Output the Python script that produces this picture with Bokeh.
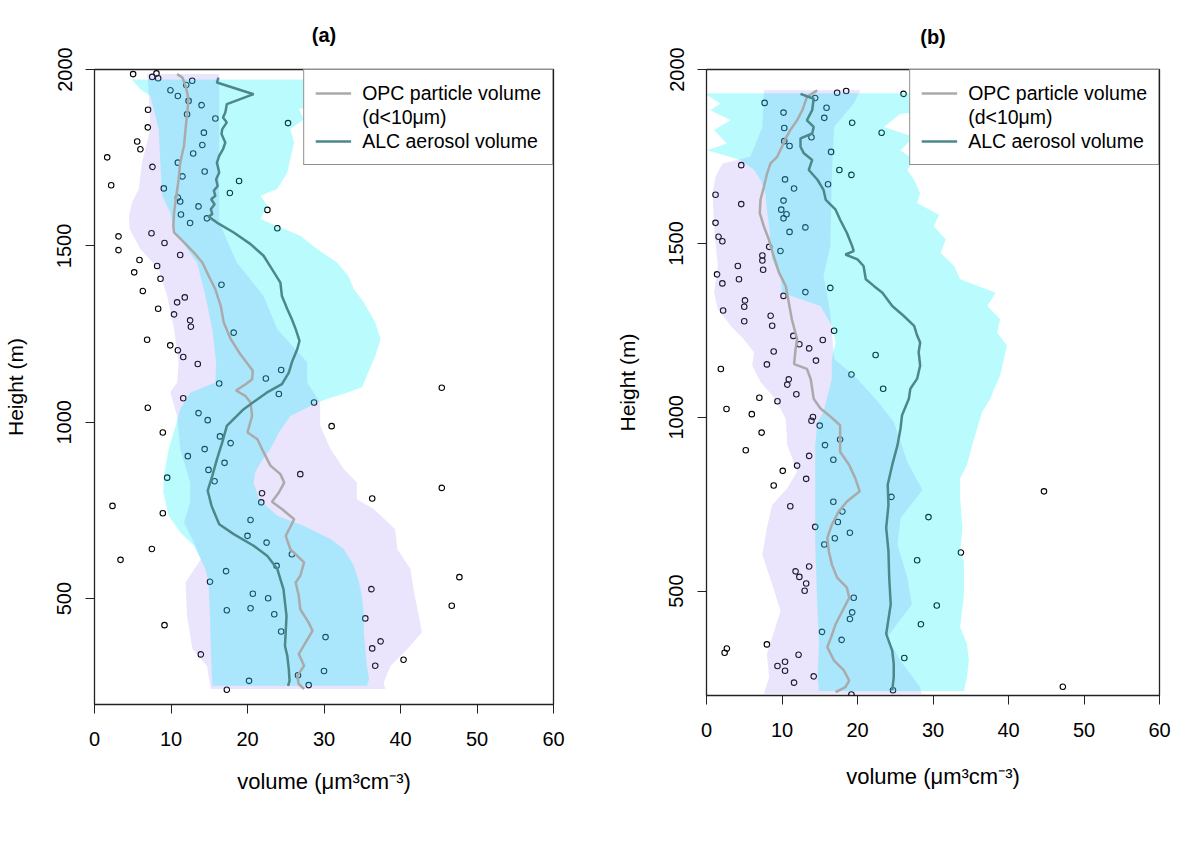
from bokeh.plotting import figure
from bokeh.layouts import row
from bokeh.models import Range1d, Legend, LegendItem, FixedTicker
from bokeh.embed import file_html
from bokeh.resources import INLINE

FONT = "Liberation Sans"

# ---------------- Panel (a) ----------------
A_alc_h = [1977, 1963, 1930, 1902, 1878, 1864, 1850, 1831, 1817, 1793, 1774, 1755, 1736, 1708, 1689, 1670, 1656, 1642, 1632, 1618,
           1604, 1590, 1583, 1566, 1538, 1505, 1472, 1434, 1396, 1358, 1321, 1292, 1264, 1231, 1207, 1170, 1141, 1108, 1084, 1037,
           990, 943, 895, 848, 806, 763, 711, 683, 650, 621, 584, 527, 451, 366, 338, 300, 267, 253]
A_alc_v = [16.2, 16.0, 20.8, 17.3, 17.1, 16.8, 17.3, 16.7, 16.6, 17.1, 16.8, 16.3, 16.0, 16.3, 15.9, 16.1, 15.6, 15.8, 15.25, 15.7,
           15.2, 15.4, 14.9, 16.0, 18.2, 20.4, 22.1, 23.2, 24.3, 24.5, 25.2, 25.8, 26.3, 26.8, 26.5, 25.8, 25.4, 24.5, 22.5, 19.5,
           17.3, 16.7, 16.0, 15.4, 14.8, 15.3, 16.3, 18.2, 20.8, 22.6, 23.9, 24.7, 25.1, 24.9, 25.2, 25.4, 25.5, 25.3]

A_opc_h = [1987, 1977, 1954, 1916, 1873, 1831, 1784, 1736, 1689, 1642, 1595, 1557, 1538, 1510, 1481, 1453, 1425, 1377, 1330, 1283,
           1236, 1198, 1160, 1146, 1122, 1110, 1090, 1075, 1056, 1018, 971, 952, 924, 877, 853, 829, 801, 775, 754, 725,
           678, 640, 603, 565, 546, 508, 470, 432, 409, 376, 343, 310, 281, 258, 244]
A_opc_v = [10.8, 11.5, 11.9, 12.3, 12.1, 11.9, 11.7, 11.2, 11.0, 10.7, 10.4, 10.3, 10.4, 11.7, 13.0, 14.1, 14.7, 15.8, 16.5, 16.9,
           17.8, 18.9, 20.2, 20.7, 20.6, 19.9, 18.5, 19.7, 20.4, 20.6, 20.0, 21.3, 21.9, 23.0, 24.3, 24.8, 24.1, 23.2, 24.5, 26.1,
           25.0, 25.6, 27.4, 26.9, 26.3, 26.7, 26.9, 28.0, 28.5, 27.6, 26.7, 27.4, 26.5, 26.7, 27.4]

# ALC range band (cyan): left and right edges, top to bottom
A_cyan_left_h = [1972, 1944, 1925, 1831, 1736, 1642, 1595, 1547, 1491, 1453, 1358, 1264, 1170, 1113, 1084, 1037, 990, 924, 848,
                 801, 735, 688, 650, 612, 584, 546, 451, 357, 253]
A_cyan_left_v = [4.9, 6.0, 7.3, 8.4, 8.6, 8.85, 9.9, 10.4, 12.1, 13.4, 14.5, 15.4, 15.9, 15.8, 12.5, 11.2, 10.6, 9.7, 9.06,
                 9.0, 9.7, 11.2, 13.0, 13.9, 14.5, 14.9, 15.1, 15.2, 15.4]
A_cyan_right_h = [1972, 1900, 1888, 1859, 1831, 1793, 1746, 1708, 1661, 1642, 1614, 1576, 1529, 1491, 1453, 1415, 1377, 1340,
                  1283, 1236, 1188, 1132, 1100, 1084, 1070, 1056, 1018, 971, 924, 886, 858, 829, 782, 735, 706, 669, 640,
                  593, 546, 499, 451, 404, 357, 310, 272, 253]
A_cyan_right_v = [30.0, 30.0, 26.7, 27.4, 25.6, 26.1, 25.6, 25.2, 23.9, 21.7, 22.6, 21.7, 26.9, 29.1, 31.7, 33.2, 33.9, 35.2,
                  36.7, 37.4, 36.7, 35.6, 35.0, 33.0, 31.0, 29.1, 25.6, 24.1, 23.0, 21.7, 21.0, 20.8, 21.5, 23.9, 27.4, 30.85, 32.6,
                  33.9, 34.6, 35.0, 35.2, 35.2, 35.4, 35.6, 35.9, 35.6]

# OPC range band (purple)
A_purp_left_h = [1987, 1925, 1831, 1736, 1661, 1623, 1585, 1547, 1491, 1434, 1358, 1264, 1170, 1113, 1085, 1018, 924, 829,
                 773, 716, 659, 612, 546, 451, 357, 310, 244]
A_purp_left_v = [6.9, 7.1, 7.3, 6.2, 5.8, 4.9, 4.5, 4.6, 6.0, 8.4, 9.5, 10.4, 11.0, 10.8, 9.9, 10.8, 11.2, 12.5,
                 12.5, 11.7, 13.0, 13.9, 11.9, 12.1, 12.8, 14.7, 15.2]
A_purp_right_h = [1987, 1831, 1566, 1453, 1358, 1264, 1170, 1113, 1056, 990, 924, 867, 829, 782, 754, 697, 640, 584, 527,
                  451, 404, 357, 310, 262, 244]
A_purp_right_v = [16.3, 16.3, 16.3, 18.6, 22.1, 23.9, 27.8, 27.8, 29.5, 29.5, 30.85, 32.6, 34.3, 34.3, 36.5, 39.3, 39.6, 41.3, 41.7,
                  42.4, 42.8, 40.9, 38.7, 37.8, 38.0]

A_pts_v = [5.05, 7.54, 8.1, 8.32, 12.77, 12.0, 9.93, 10.9, 12.3, 14.0, 7.0, 12.1, 15.8, 25.3, 6.97, 14.3, 5.58, 14.1, 6.0, 12.9,
           1.66, 10.9, 7.58, 14.4, 11.5, 18.9, 2.18, 9.06, 17.7, 10.9, 11.2, 13.6, 22.6, 11.3, 14.7, 12.5, 23.9, 7.45, 3.14, 9.15,
           3.14, 11.2, 5.88, 8.19, 5.19, 8.63, 6.32, 16.6, 11.8, 10.8, 8.32, 10.4, 12.5, 12.6, 18.2, 6.88, 9.9, 10.9, 11.6, 13.5,
           24.4, 22.4, 16.3, 45.4,
           24.1, 11.6, 6.97, 28.7, 13.6, 14.8, 8.93, 31.0, 16.4, 17.8, 14.4, 12.2, 17.0, 14.9, 26.9, 15.7, 9.5, 21.9, 21.8, 36.3,
           45.4, 2.35, 8.93, 20.4, 20.0, 22.5, 25.8, 7.5, 3.4, 23.8, 17.2, 47.7, 15.1, 36.2, 20.7, 22.7, 46.7, 17.3, 20.4, 23.5,
           35.4, 9.15, 24.4, 30.2, 37.4, 36.3, 13.9, 40.4, 36.7, 30.0, 26.6, 20.2, 28.0, 17.3]
A_pts_h = [1987, 1979, 1989, 1975, 1968, 1956, 1941, 1925, 1911, 1899, 1886, 1873, 1861, 1848, 1836, 1821, 1796, 1786, 1774, 1762,
           1751, 1736, 1724, 1711, 1697, 1684, 1672, 1663, 1650, 1637, 1626, 1612, 1602, 1589, 1578, 1565, 1550, 1536, 1527, 1508,
           1488, 1474, 1460, 1443, 1425, 1407, 1372, 1390, 1354, 1340, 1322, 1306, 1289, 1271, 1254, 1234, 1218, 1204, 1185, 1165,
           1148, 1124, 1110, 1098,
           1080, 1068, 1041, 1056, 1026, 1006, 971, 989, 960, 941, 924, 904, 885, 865, 853, 833, 843, 799, 773, 784,
           814, 763, 742, 723, 678, 659, 626, 641, 610, 593, 578, 561, 548, 527, 514, 501, 480, 467, 473, 456,
           444, 425, 407, 391, 379, 359, 342, 327, 310, 295, 283, 267, 255, 242]

# ---------------- Panel (b) ----------------
B_alc_h = [1930, 1916, 1883, 1854, 1835, 1816, 1802, 1778, 1759, 1740, 1711, 1683, 1654, 1625, 1597, 1568, 1530, 1492, 1478, 1468,
           1454, 1435, 1397, 1377, 1358, 1320, 1292, 1263, 1235, 1215, 1187, 1149, 1111, 1082, 1053, 1006, 968, 920, 863, 806,
           748, 682, 615, 539, 462, 377, 329, 291, 253, 215]
B_alc_v = [12.45, 14.2, 14.0, 13.3, 14.2, 14.0, 12.45, 12.45, 12.9, 14.0, 13.55, 14.7, 15.5, 15.8, 17.1, 17.7, 18.6, 19.3, 19.5, 18.4,
           20.0, 20.8, 21.1, 22.2, 23.3, 24.6, 26.1, 27.5, 27.9, 28.3, 28.1, 28.3, 27.9, 27.0, 26.8, 25.9, 25.7, 25.3, 24.6, 24.0,
           24.1, 23.8, 24.1, 24.2, 24.4, 23.8, 24.6, 24.8, 24.8, 24.6]

B_opc_h = [1940, 1921, 1883, 1854, 1826, 1802, 1778, 1749, 1730, 1702, 1663, 1625, 1587, 1549, 1511, 1463, 1416, 1377, 1330, 1282,
           1225, 1196, 1153, 1139, 1110, 1082, 1053, 1025, 1006, 977, 939, 901, 863, 825, 787, 758, 729, 691, 653, 615,
           577, 539, 510, 481, 443, 405, 367, 339, 300, 272, 243, 224, 210]
B_opc_v = [14.66, 13.3, 12.7, 12.0, 11.1, 10.5, 10.0, 9.36, 8.48, 8.04, 7.6, 7.15, 7.06, 7.6, 8.26, 8.9, 9.6, 10.5, 10.9, 11.3,
           12.0, 11.8, 11.6, 13.3, 13.8, 14.0, 14.2, 15.1, 16.2, 17.7, 17.7, 17.7, 18.9, 19.7, 20.3, 18.6, 17.5, 16.6, 16.0, 16.2,
           16.6, 17.3, 18.6, 18.9, 18.0, 17.1, 16.5, 16.0, 16.9, 18.2, 18.9, 18.4, 17.1]

B_cyan_left_h = [1932, 1926, 1902, 1883, 1854, 1826, 1787, 1768, 1740, 1711, 1683, 1644, 1597, 1549, 1492, 1454, 1406, 1358,
                 1320, 1263, 1215, 1168, 1110, 1015, 987, 920, 825, 634, 443, 348, 253, 213]
B_cyan_left_v = [0.1, 0.1, 1.85, 0.5, 3.2, 1.0, 2.7, 0.1, 4.5, 6.3, 7.15, 7.8, 8.0, 8.3, 8.5, 8.7, 9.8, 10.0,
                 15.1, 16.6, 17.1, 16.6, 16.6, 15.5, 14.7, 14.4, 14.4, 14.4, 14.7, 14.9, 14.7, 14.9]
B_cyan_right_h = [1932, 1880, 1873, 1835, 1806, 1768, 1740, 1711, 1683, 1644, 1616, 1582, 1549, 1511, 1473, 1435, 1397, 1358,
                  1320, 1282, 1244, 1206, 1168, 1120, 1082, 1053, 1015, 968, 920, 863, 825, 768, 682, 611, 586, 491, 396,
                  348, 300, 253, 213]
B_cyan_right_v = [30.0, 30.0, 25.7, 23.5, 27.5, 25.7, 27.5, 26.6, 27.5, 28.3, 27.9, 30.8, 30.1, 31.7, 31.0, 32.8, 33.6, 38.3,
                  37.2, 38.9, 38.5, 39.8, 39.4, 38.9, 38.1, 37.6, 36.5, 35.85, 35.2, 34.5, 33.6, 33.6, 33.9, 33.6, 34.1, 34.1, 33.6,
                  34.5, 34.75, 34.5, 34.1]

B_purp_left_h = [1940, 1835, 1749, 1730, 1692, 1644, 1597, 1549, 1501, 1435, 1358, 1311, 1263, 1225, 1187, 1149, 1100, 1053,
                 996, 920, 844, 796, 748, 682, 605, 520, 443, 367, 319, 253, 205]
B_purp_left_v = [7.6, 7.4, 5.8, 2.1, 1.2, 0.8, 0.9, 1.0, 1.2, 1.5, 1.0, 1.5, 3.2, 4.9, 6.3, 6.05, 7.2, 9.1,
                 10.5, 10.7, 12.0, 10.7, 8.7, 8.0, 7.4, 8.7, 9.8, 8.7, 8.0, 8.3, 7.6]
B_purp_right_h = [1940, 1902, 1835, 1692, 1492, 1406, 1301, 1168, 1110, 1050, 987, 872, 791, 710, 634, 539, 462, 367, 300,
                  224, 205]
B_purp_right_v = [20.4, 19.5, 16.9, 16.6, 16.4, 15.5, 16.4, 16.9, 20.0, 22.5, 24.8, 26.6, 28.6, 25.7, 25.3, 26.6, 27.2, 23.9, 25.7,
                  28.3, 28.5]

B_pts_v = [17.3, 18.5, 26.1, 14.4, 7.7, 15.9, 10.2, 15.6, 19.3, 10.3, 23.2, 13.9, 10.3, 11.0, 16.5, 4.6, 17.6, 19.2, 10.4, 16.1,
           11.6, 1.2, 10.2, 4.6, 9.9, 10.6, 10.2, 1.2, 13.1, 11.0, 1.6, 2.1, 8.3, 9.8, 7.4, 7.4, 7.5, 4.15, 1.4, 4.3,
           2.1, 13.1, 16.4, 10.2, 5.1, 5.0, 2.2, 8.5, 5.0, 8.7, 16.9, 11.5, 12.3, 13.6, 15.4, 8.9, 22.4, 14.5, 8.0, 1.9,
           19.2, 10.9, 10.7, 23.4,
           11.9, 7.0, 9.4, 2.65, 6.0, 14.1, 13.9, 15.0, 7.3, 17.7, 15.7, 5.2, 13.6, 16.8, 12.0, 10.1, 13.2, 8.9, 44.7, 24.5,
           11.1, 16.8, 18.0, 17.4, 29.4, 19.0, 14.4, 17.0, 15.6, 33.7, 27.9, 13.6, 11.8, 12.3, 13.2, 13.0, 19.5, 30.5, 19.3, 19.0,
           28.4, 15.3, 17.9, 8.0, 2.7, 2.4, 12.2, 26.2, 10.4, 9.4, 10.4, 11.6, 14.2, 47.2, 24.7, 19.2]
B_pts_h = [1933, 1938, 1930, 1918, 1904, 1890, 1876, 1861, 1847, 1832, 1818, 1805, 1794, 1780, 1763, 1725, 1711, 1697, 1684, 1670,
           1658, 1640, 1623, 1613, 1597, 1584, 1572, 1559, 1546, 1533, 1519, 1506, 1490, 1478, 1465, 1451, 1424, 1435, 1411, 1397,
           1385, 1360, 1372, 1349, 1336, 1318, 1307, 1292, 1276, 1263, 1249, 1234, 1210, 1198, 1222, 1189, 1179, 1163, 1152, 1139,
           1123, 1109, 1094, 1082,
           1066, 1056, 1046, 1024, 1009, 1001, 990, 976, 956, 936, 920, 905, 889, 878, 861, 846, 823, 804, 787, 771,
           744, 757, 729, 699, 713, 668, 685, 652, 634, 611, 589, 571, 557, 541, 522, 501, 481, 459, 439, 420,
           405, 383, 360, 347, 335, 323, 317, 308, 297, 285, 271, 237, 255, 225, 215, 203]

x_ticks = [0, 10, 20, 30, 40, 50, 60]
y_ticks = [500, 1000, 1500, 2000]
legend_labels = ["OPC particle volume", "(d<10μm)", "ALC aerosol volume"]
panel_titles = ["(a)", "(b)"]

PURPLE = "#9678f0"
CYAN = "#00f0fa"
OPC_COLOR = "#aaaaaa"
ALC_COLOR = "#4d878a"


def make_panel(title, title_standoff, geom, ylab_standoff, xlab_standoff,
               alc_h, alc_v, opc_h, opc_v,
               cl_h, cl_v, cr_h, cr_v, pl_h, pl_v, pr_h, pr_v, pts_v, pts_h):
    p = figure(frame_width=geom[0], frame_height=geom[1],
               min_border_left=geom[2], min_border_right=geom[3],
               min_border_top=geom[4], min_border_bottom=geom[5],
               x_range=Range1d(0, 60), y_range=Range1d(200, 2000),
               output_backend="svg", toolbar_location=None)
    p.grid.visible = False
    p.outline_line_color = "#222222"
    p.outline_line_width = 1.3
    p.background_fill_color = "white"
    p.border_fill_color = "white"

    p.title.text = title
    p.title.align = "center"
    p.title.vertical_align = "top"
    p.title.text_font = FONT
    p.title.text_font_size = "20px"
    p.title.text_font_style = "bold"
    p.title.text_color = "black"
    p.title.standoff = title_standoff

    for ax in (p.xaxis[0], p.yaxis[0]):
        ax.axis_line_color = None
        ax.major_tick_in = 0
        ax.major_tick_out = 9
        ax.major_tick_line_color = "#222222"
        ax.minor_tick_line_color = None
        ax.major_label_text_font = FONT
        ax.major_label_text_font_size = "20px"
        ax.major_label_text_color = "black"
        ax.axis_label_text_font = FONT
        ax.axis_label_text_font_style = "normal"
        ax.axis_label_text_color = "black"
    p.xaxis[0].ticker = FixedTicker(ticks=x_ticks)
    p.yaxis[0].ticker = FixedTicker(ticks=y_ticks)
    p.xaxis[0].major_label_standoff = 18
    p.yaxis[0].major_label_standoff = 14
    p.yaxis[0].major_label_orientation = "vertical"
    p.xaxis[0].axis_label = "volume (μm³cm⁻³)"
    p.xaxis[0].axis_label_text_font_size = "22px"
    p.xaxis[0].axis_label_standoff = xlab_standoff
    p.yaxis[0].axis_label = "Height (m)"
    p.yaxis[0].axis_label_text_font_size = "21px"
    p.yaxis[0].axis_label_standoff = ylab_standoff

    # individual samples (drawn beneath the translucent bands)
    p.scatter(x=pts_v, y=pts_h, marker="circle", size=5.5, fill_color=None,
              line_color="black", line_width=1.1)

    # OPC range (purple) then ALC range (cyan)
    p.patch(x=pl_v + pr_v[::-1], y=pl_h + pr_h[::-1], fill_color=PURPLE,
            fill_alpha=0.2, line_color=None)
    p.patch(x=cl_v + cr_v[::-1], y=cl_h + cr_h[::-1], fill_color=CYAN,
            fill_alpha=0.27, line_color=None)

    opc_r = p.line(x=opc_v, y=opc_h, line_color=OPC_COLOR, line_width=2.5)
    alc_r = p.line(x=alc_v, y=alc_h, line_color=ALC_COLOR, line_width=2.5)
    dummy = p.line(x=[], y=[], line_alpha=0)

    legend = Legend(items=[LegendItem(label=legend_labels[0], renderers=[opc_r]),
                           LegendItem(label=legend_labels[1], renderers=[dummy]),
                           LegendItem(label=legend_labels[2], renderers=[alc_r])],
                    location="top_right", margin=0, padding=11, spacing=0,
                    label_height=24, glyph_height=24, glyph_width=36,
                    label_standoff=11, label_text_font=FONT,
                    label_text_font_size="19.5px", label_text_color="black",
                    border_line_color="#222222", border_line_width=1,
                    background_fill_color="white", background_fill_alpha=1.0)
    p.add_layout(legend)
    return p


pa = make_panel(panel_titles[0], 44, (459, 635, 94, 59, 69, 100), 28, 20,
                A_alc_h, A_alc_v, A_opc_h, A_opc_v,
                A_cyan_left_h, A_cyan_left_v, A_cyan_right_h, A_cyan_right_v,
                A_purp_left_h, A_purp_left_v, A_purp_right_h, A_purp_right_v,
                A_pts_v, A_pts_h)
pb = make_panel(panel_titles[1], 40, (453, 626, 94, 20, 69, 100), 28, 24,
                B_alc_h, B_alc_v, B_opc_h, B_opc_v,
                B_cyan_left_h, B_cyan_left_v, B_cyan_right_h, B_cyan_right_v,
                B_purp_left_h, B_purp_left_v, B_purp_right_h, B_purp_right_v,
                B_pts_v, B_pts_h)

layout = row(pa, pb)
open("out.html", "w").write(file_html(layout, INLINE))
